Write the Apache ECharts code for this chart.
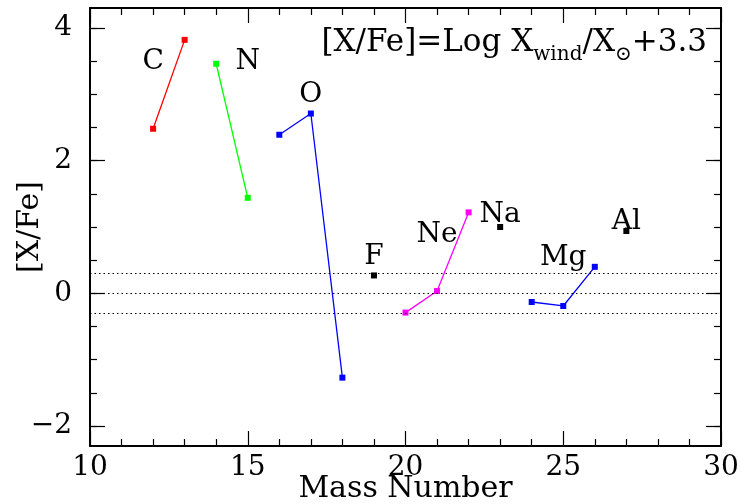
<!DOCTYPE html>
<html>
<head>
<meta charset="utf-8">
<script src="https://cdn.jsdelivr.net/npm/echarts@6/dist/echarts.min.js"></script>
<style>
  html, body { margin: 0; padding: 0; background: #fff; }
  #chart { width: 741px; height: 504px; }
</style>
</head>
<body>
<div id="chart"></div>
<script>
// element groups: mass numbers and [X/Fe] per isotope
const elements = ['C', 'N', 'O', 'F', 'Ne', 'Na', 'Mg', 'Al']
const massNumbers = [[12, 13], [14, 15], [16, 17, 18], [19], [20, 21, 22], [23], [24, 25, 26], [27]]
const xfeValues = [[2.48, 3.82], [3.46, 1.44], [2.39, 2.71, -1.27], [0.27], [-0.29, 0.035, 1.22], [1.00], [-0.13, -0.19, 0.40], [0.94]]

// where each element name sits (data coordinates)
const labelMass = [12, 15, 17, 19, 21, 23, 25, 27]
const labelXfe = [3.49, 3.49, 2.99, 0.55, 0.88, 1.18, 0.53, 1.08]

const refLevels = [0.3, 0, -0.3]
const yMajorTicks = [-2, 0, 2, 4]
const yMinorTicks = [-2, -1.5, -1, -0.5, 0, 0.5, 1, 1.5, 2, 2.5, 3, 3.5, 4]

const colors = ['#ff0000', '#00ff00', '#0000ff', '#000000', '#ff00ff', '#000000', '#0000ff', '#000000']
const FONT = 'DejaVu Serif'

const chart = echarts.init(document.getElementById('chart'), null, { renderer: 'canvas' })

const frameLine = { show: true, onZero: false, lineStyle: { color: '#000', width: 2 } }
const tickStyle = { color: '#000', width: 1.2 }

function xAx(pos, showLabel) {
    return {
        type: 'value', position: pos, min: 10, max: 30, interval: 5,
        axisLine: frameLine,
        axisTick: { show: true, inside: true, length: 15, lineStyle: tickStyle },
        minorTick: { show: true, splitNumber: 5, length: 7, lineStyle: tickStyle },
        axisLabel: { show: showLabel, color: '#000', fontFamily: FONT, fontSize: 28, margin: 8 },
        splitLine: { show: false },
        name: showLabel ? 'Mass Number' : '',
        nameLocation: 'middle', nameGap: 28, nameMoveOverlap: false,
        nameTextStyle: { color: '#000', fontFamily: FONT, fontSize: 30 }
    }
}

function yAx(pos, ticks, len, showLabel, line) {
    return {
        type: 'value', position: pos, min: -2.3, max: 4.3,
        axisLine: line ? frameLine : { show: false },
        axisTick: { show: true, inside: true, length: len, customValues: ticks, lineStyle: tickStyle },
        axisLabel: {
            show: showLabel, customValues: yMajorTicks, color: '#000', fontFamily: FONT, fontSize: 28, margin: 18,
            formatter: v => String(v).replace('-', '\u2212')
        },
        splitLine: { show: false },
        name: showLabel ? '[X/Fe]' : '',
        nameLocation: 'middle', nameGap: 45, nameMoveOverlap: false,
        nameTextStyle: { color: '#000', fontFamily: FONT, fontSize: 30 }
    }
}

const series = elements.map((el, i) => ({
    type: 'line',
    name: el,
    data: massNumbers[i].map((m, j) => [m, xfeValues[i][j]]),
    symbol: 'rect', symbolSize: 6,
    lineStyle: { color: colors[i], width: 1.3 },
    itemStyle: { color: colors[i] },
    showSymbol: true,
    z: 3
}))

series.push({
    type: 'line',
    data: [],
    markLine: {
        silent: true, symbol: 'none', label: { show: false },
        lineStyle: { color: '#000', type: [1.5, 3], width: 1.2 },
        data: refLevels.map(v => ({ yAxis: v }))
    }
})

series.push({
    type: 'scatter',
    symbolSize: 0,
    itemStyle: { opacity: 1 },
    data: elements.map((el, i) => ({ name: el, value: [labelMass[i], labelXfe[i]] })),
    label: {
        show: true, position: 'inside', formatter: '{b}',
        color: '#000', fontFamily: FONT, fontSize: 28, textBorderWidth: 0
    }
})

chart.setOption({
    animation: false,
    grid: { left: 90, right: 20, top: 8, bottom: 58, containLabel: false, outerBoundsMode: 'none' },
    xAxis: [xAx('bottom', true), xAx('top', false)],
    yAxis: [
        yAx('left', yMajorTicks, 15, true, true),
        yAx('left', yMinorTicks, 7, false, false),
        yAx('right', yMajorTicks, 15, false, true),
        yAx('right', yMinorTicks, 7, false, false)
    ],
    graphic: [{
        type: 'text',
        right: 34, top: 27,
        style: {
            text: '{m|[X/Fe]=Log X}{s|wind}{m|/X}{s|\u2299}{m|+3.3}',
            rich: {
                m: { fontFamily: FONT, fontSize: 31, lineHeight: 36, fill: '#000' },
                s: { fontFamily: FONT, fontSize: 20, lineHeight: 18, verticalAlign: 'bottom', fill: '#000', padding: [0, 0, -4, 0] }
            }
        }
    }],
    series: series
})
</script>
</body>
</html>
